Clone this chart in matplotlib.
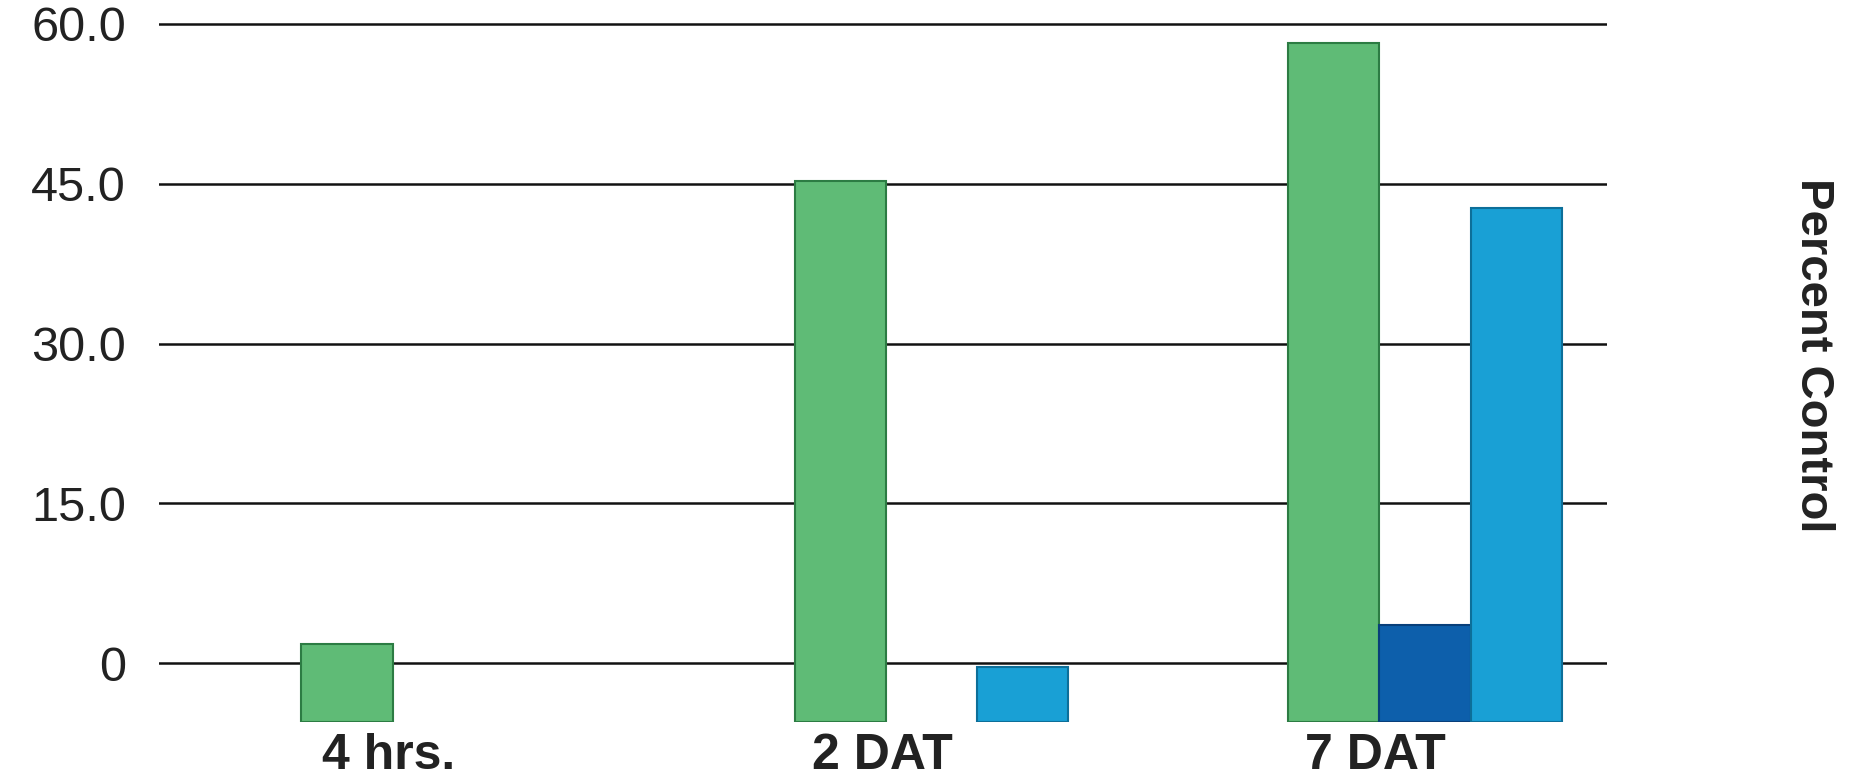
import matplotlib.pyplot as plt
import numpy as np

plt.rcParams['font.family'] = ['Liberation Sans', 'DejaVu Sans']

# data
groups = ['4 hrs.', '2 DAT', '7 DAT']
series_green = [1.8, 45.3, 58.2]
series_dark_blue = [np.nan, np.nan, 3.6]
series_light_blue = [np.nan, -0.3, 42.7]
y_ticks = [0, 15, 30, 45, 60]
y_tick_labels = ['0', '15.0', '30.0', '45.0', '60.0']

face_colors = ['#5fbb76', '#0d5fab', '#19a0d5']
edge_colors = ['#2c7c43', '#083f7a', '#0d6f99']
floor = -5.5


def main():
    fig = plt.figure(figsize=(18.54, 7.78), dpi=100)
    ax = fig.add_axes([0.086, 0.072, 0.781, 0.911])

    x = np.arange(len(groups))
    width = 0.185
    offsets = [-width, 0.0, width]
    all_series = [series_green, series_dark_blue, series_light_blue]

    for vals, off, fc, ec in zip(all_series, offsets, face_colors, edge_colors):
        vals = np.array(vals, dtype=float)
        ax.bar(x + off, vals - floor, width=width, bottom=floor,
               color=fc, edgecolor=ec, linewidth=1.5, zorder=3)

    ax.set_xlim(-0.565, 2.37)
    ax.set_ylim(floor, 61)
    ax.set_yticks(y_ticks)
    ax.set_yticklabels(y_tick_labels, fontsize=35, color='#222222')
    ax.set_xticks(x - 0.1)
    ax.set_xticklabels(groups, fontsize=36, fontweight='bold', color='#222222')
    ax.tick_params(axis='both', length=0)
    ax.tick_params(axis='y', pad=24)
    ax.tick_params(axis='x', pad=8)

    ax.yaxis.grid(True, color='#111111', linewidth=1.8, zorder=0)
    for s in ax.spines.values():
        s.set_visible(False)

    fig.text(0.978, 0.544, 'Percent Control', rotation=270, fontsize=34,
             fontweight='bold', color='#222222', ha='center', va='center')

    fig.savefig('out.png', dpi=100)


if __name__ == '__main__':
    main()
